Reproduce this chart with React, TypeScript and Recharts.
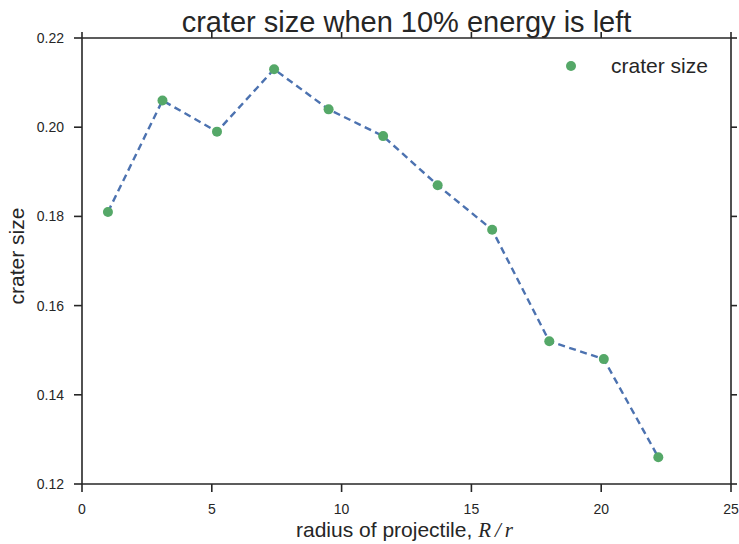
import { LineChart, Line, XAxis, YAxis } from "recharts";

// radius of projectile (R/r) and crater size
const radius = [1, 3.1, 5.2, 7.4, 9.5, 11.6, 13.7, 15.8, 18.0, 20.1, 22.2];
const craterSize = [0.181, 0.206, 0.199, 0.213, 0.204, 0.198, 0.187, 0.177, 0.152, 0.148, 0.126];

const xTicks = [0, 5, 10, 15, 20, 25];
const yTicks = [0.12, 0.14, 0.16, 0.18, 0.2, 0.22];

const data = radius.map((r, i) => ({ r, size: craterSize[i] }));

const ink = "#262626";
const font = "Liberation Sans, Arial, sans-serif";

export default function App() {
  const tick = { fill: ink, fontSize: 14, fontFamily: font };
  const axisLine = { stroke: ink, strokeWidth: 1.6 };

  return (
    <div style={{ position: "absolute", left: 0, top: 0, width: 739, height: 544, background: "#fff" }}>
      <LineChart width={739} height={544} data={data} margin={{ top: 37, right: 7, bottom: 30, left: 0 }}>
        <XAxis
          dataKey="r"
          type="number"
          domain={[0, 25]}
          ticks={xTicks}
          tick={tick}
          tickSize={8}
          tickMargin={12}
          stroke={ink}
          axisLine={axisLine}
          tickLine={axisLine}
          height={30}
          allowDataOverflow
        />
        <XAxis
          xAxisId="top"
          orientation="top"
          type="number"
          domain={[0, 25]}
          ticks={xTicks}
          tickFormatter={() => ""}
          tickSize={6}
          stroke={ink}
          axisLine={axisLine}
          tickLine={axisLine}
          height={1}
          dataKey="r"
        />
        <YAxis
          type="number"
          domain={[0.12, 0.22]}
          ticks={yTicks}
          tickFormatter={(v: number) => v.toFixed(2)}
          tick={tick}
          tickSize={8}
          tickMargin={10}
          stroke={ink}
          axisLine={axisLine}
          tickLine={axisLine}
          width={82}
          allowDataOverflow
        />
        <YAxis
          yAxisId="right"
          orientation="right"
          type="number"
          domain={[0.12, 0.22]}
          ticks={yTicks}
          tickFormatter={() => ""}
          tickSize={6}
          stroke={ink}
          axisLine={axisLine}
          tickLine={axisLine}
          width={1}
        />
        <Line
          dataKey="size"
          stroke="#4c72b0"
          strokeWidth={2.4}
          strokeDasharray="7 4.5"
          dot={{ r: 5, fill: "#55a868", stroke: "none", strokeDasharray: "" }}
          isAnimationActive={false}
        />
        <Line
          dataKey="size"
          xAxisId="top"
          yAxisId="right"
          stroke="none"
          dot={false}
          legendType="none"
          isAnimationActive={false}
        />
      </LineChart>

      <div
        style={{
          position: "absolute",
          left: 82,
          width: 649,
          top: 6,
          textAlign: "center",
          fontFamily: font,
          fontSize: 29,
          color: ink,
          whiteSpace: "nowrap",
        }}
      >
        crater size when 10% energy is left
      </div>

      <div style={{ position: "absolute", left: 566, top: 61, width: 10, height: 10, borderRadius: 5, background: "#55a868" }} />
      <div style={{ position: "absolute", left: 611, top: 54, fontFamily: font, fontSize: 21, color: ink, whiteSpace: "nowrap" }}>
        crater size
      </div>

      <div
        style={{
          position: "absolute",
          left: 82,
          width: 649,
          top: 518,
          textAlign: "center",
          fontFamily: font,
          fontSize: 21,
          color: ink,
          whiteSpace: "nowrap",
        }}
      >
        radius of projectile,{" "}
        <span style={{ fontFamily: "Liberation Serif, serif", fontStyle: "italic", letterSpacing: 4 }}>R/r</span>
      </div>

      <div
        style={{
          position: "absolute",
          left: 17,
          top: 256,
          transform: "translate(-50%, -50%) rotate(-90deg)",
          whiteSpace: "nowrap",
          fontFamily: font,
          fontSize: 21,
          color: ink,
        }}
      >
        crater size
      </div>
    </div>
  );
}
